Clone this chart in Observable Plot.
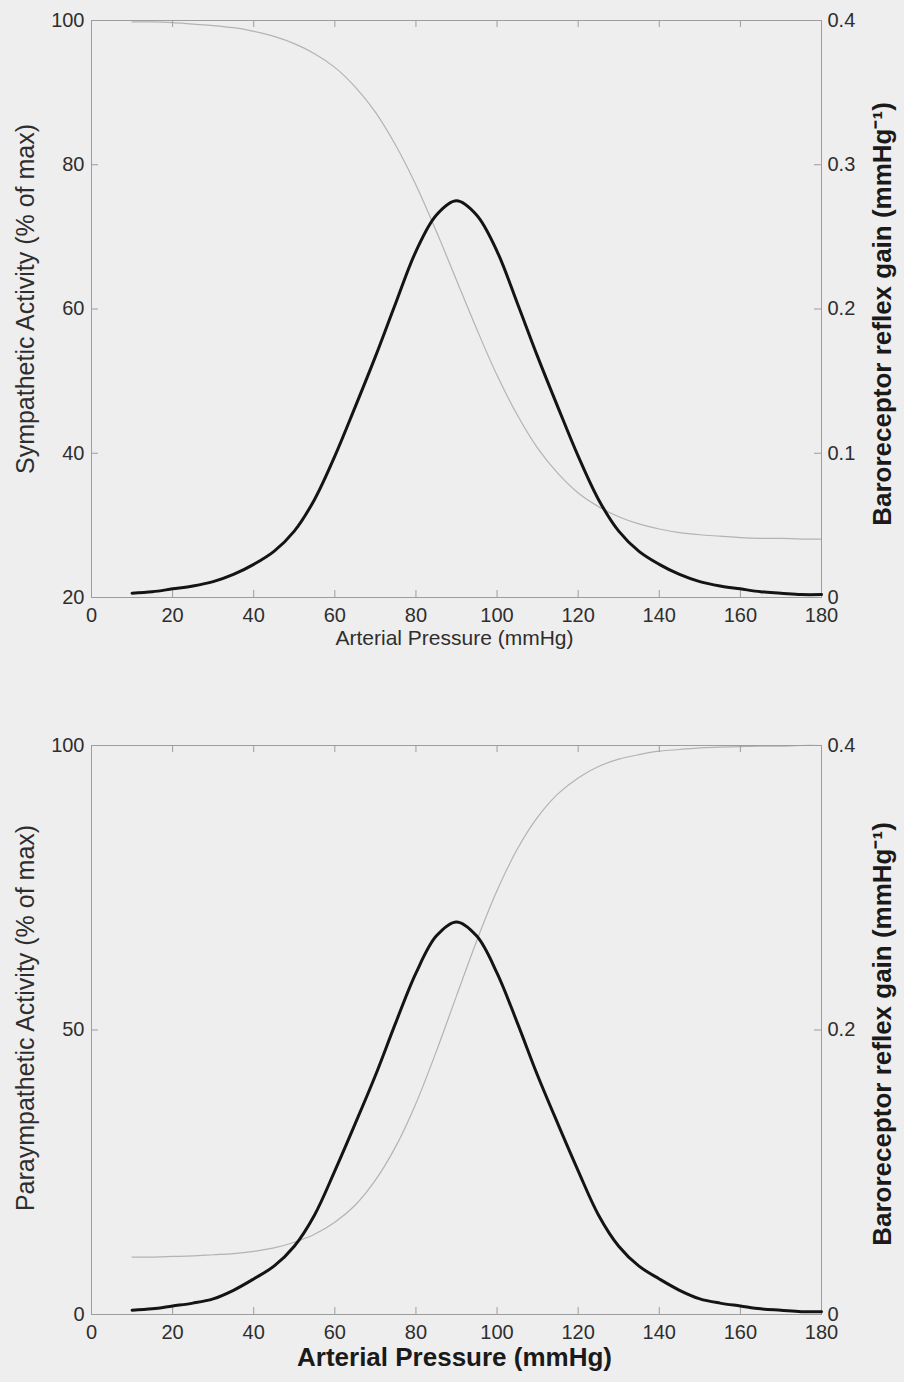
<!DOCTYPE html>
<html>
<head>
<meta charset="utf-8">
<script src="https://cdn.jsdelivr.net/npm/d3@7"></script>
<script src="https://cdn.jsdelivr.net/npm/@observablehq/plot@0.6"></script>
<style>
  html, body { margin: 0; padding: 0; background: #eeeeee; }
  #wrap { position: relative; width: 904px; height: 1382px; overflow: hidden; background: #eeeeee; }
  #wrap svg { position: absolute; left: 0; }
</style>
</head>
<body>
<div id="wrap"></div>
<script>
// ---- data ----
const pressure = [10,15,20,25,30,35,40,45,50,55,60,65,70,75,80,85,90,95,100,105,110,115,120,125,130,135,140,145,150,155,160,165,170,175,180];

const sympathetic = [99.8,99.8,99.7,99.5,99.3,99.0,98.5,97.8,96.8,95.4,93.5,90.8,87.3,82.7,77.2,70.8,64.0,57.2,50.8,45.3,40.7,37.2,34.5,32.6,31.2,30.2,29.5,29.0,28.7,28.5,28.3,28.2,28.2,28.1,28.1];

const parasympathetic = [10.1,10.1,10.2,10.3,10.5,10.7,11.1,11.7,12.7,14.1,16.2,19.2,23.6,29.5,37.1,46.2,56.0,65.7,74.5,81.8,87.4,91.5,94.3,96.3,97.6,98.4,99.0,99.3,99.6,99.7,99.8,99.9,99.9,100.0,100.0];

const gainTop = [0.003,0.004,0.006,0.008,0.011,0.016,0.023,0.032,0.046,0.068,0.098,0.132,0.167,0.204,0.240,0.265,0.275,0.265,0.240,0.204,0.167,0.132,0.098,0.068,0.046,0.032,0.023,0.016,0.011,0.008,0.006,0.004,0.003,0.002,0.002];

const gainBottom = [0.003,0.004,0.006,0.008,0.011,0.017,0.025,0.034,0.048,0.070,0.101,0.134,0.168,0.205,0.240,0.266,0.276,0.266,0.240,0.205,0.168,0.134,0.101,0.070,0.048,0.034,0.025,0.017,0.011,0.008,0.006,0.004,0.003,0.002,0.002];

const xTicks = [0,20,40,60,80,100,120,140,160,180];
const symTicks = [20,40,60,80,100];
const paraTicks = [0,50,100];
const gainTicksTop = [0,0.1,0.2,0.3,0.4];
const gainTicksBottom = [0,0.2,0.4];

const xLabel = "Arterial Pressure (mmHg)";
const symLabel = "Sympathetic Activity (% of max)";
const paraLabel = "Paraympathetic Activity (% of max)";
const gainLabel = "Baroreceptor reflex gain (mmHg\u207B\u00B9)";

// ---- drawing ----
const W = 904, ML = 91, MR = 83, TICK = 7;
const AXIS = "#9d9d9d";
const FONT = "'Liberation Sans', Arial, Helvetica, sans-serif";
const wrap = document.getElementById("wrap");

function panel(cfg) {
  const ph = cfg.height - cfg.mt - cfg.mb;
  const pw = W - ML - MR;
  const rows = pressure.map((p, i) => ({p, a: cfg.activity[i], g: cfg.gain[i]}));
  const common = {
    width: W, height: cfg.height,
    marginTop: cfg.mt, marginBottom: cfg.mb, marginLeft: ML, marginRight: MR,
    style: {background: "transparent", color: "#2e2e2e", fontFamily: FONT, fontSize: "20px", overflow: "visible"}
  };
  const left = Plot.plot({
    ...common,
    x: {domain: [0, 180]},
    y: {domain: cfg.yDomain},
    marks: [
      Plot.line(rows, {x: "p", y: "a", stroke: "#b3b3b3", strokeWidth: 1.2, curve: "catmull-rom"}),
      Plot.frame({stroke: AXIS}),
      Plot.tickX(xTicks, {x: d => d, stroke: AXIS, insetTop: ph - TICK}),
      Plot.tickX(xTicks, {x: d => d, stroke: AXIS, insetBottom: ph - TICK}),
      Plot.tickY(cfg.yTicks, {y: d => d, stroke: AXIS, insetRight: pw - TICK}),
      Plot.axisX({ticks: xTicks, tickSize: 0, tickPadding: 10, label: null, fontSize: 20, tickFormat: d => String(d)}),
      Plot.axisY({ticks: cfg.yTicks, tickSize: 0, tickPadding: 7, label: null, fontSize: 20, tickFormat: d => String(d)}),
      Plot.text([xLabel], {frameAnchor: "bottom", text: d => d, dx: -2, dy: cfg.xLabelDy, textAnchor: "middle",
        fontSize: cfg.xLabelSize, fontWeight: cfg.xLabelWeight, fill: cfg.xLabelFill}),
      Plot.text([cfg.yLabel], {frameAnchor: "left", text: d => d, rotate: -90, textAnchor: "middle",
        dx: -66, dy: cfg.yLabelDy, fontSize: 25, fill: "#2e2e2e"})
    ]
  });
  const right = Plot.plot({
    ...common,
    x: {domain: [0, 180], axis: null},
    y: {domain: [0, 0.4]},
    marks: [
      Plot.line(rows, {x: "p", y: "g", stroke: "#141414", strokeWidth: 3, curve: "catmull-rom", strokeLinejoin: "round"}),
      Plot.tickY(cfg.gainTicks, {y: d => d, stroke: AXIS, insetLeft: pw - TICK}),
      Plot.axisY({anchor: "right", ticks: cfg.gainTicks, tickSize: 0, tickPadding: 6, label: null, fontSize: 20, tickFormat: d => String(d)}),
      Plot.text([gainLabel], {frameAnchor: "right", text: d => d, rotate: -90, textAnchor: "middle",
        dx: 61, dy: cfg.gLabelDy, fontSize: 26, fontWeight: "bold", fill: "#1a1a1a"})
    ]
  });
  left.style.top = cfg.top + "px";
  right.style.top = cfg.top + "px";
  wrap.appendChild(left);
  wrap.appendChild(right);
}

panel({
  top: 0, height: 680, mt: 20, mb: 83,
  yDomain: [20, 100], yTicks: symTicks, gainTicks: gainTicksTop,
  activity: sympathetic, gain: gainTop,
  yLabel: symLabel, yLabelDy: -10, gLabelDy: 5,
  xLabelDy: 47, xLabelSize: 21, xLabelWeight: "normal", xLabelFill: "#2e2e2e"
});

panel({
  top: 680, height: 702, mt: 65, mb: 68,
  yDomain: [0, 100], yTicks: paraTicks, gainTicks: gainTicksBottom,
  activity: parasympathetic, gain: gainBottom,
  yLabel: paraLabel, yLabelDy: -12, gLabelDy: 4,
  xLabelDy: 51, xLabelSize: 26, xLabelWeight: "bold", xLabelFill: "#1a1a1a"
});
</script>
</body>
</html>
